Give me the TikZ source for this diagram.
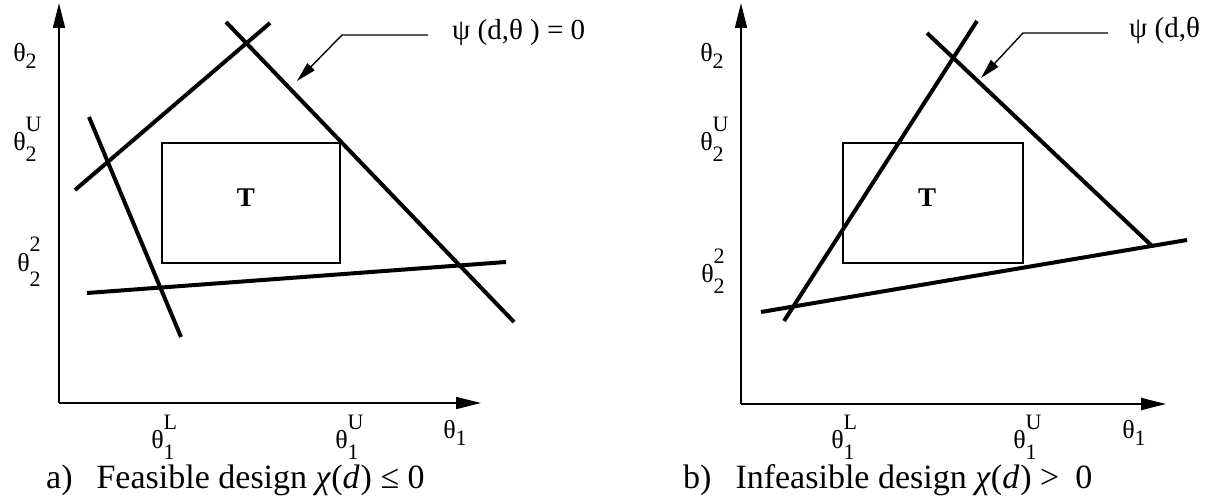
\documentclass[tikz,border=0pt]{standalone}
\usepackage{fontspec}
\setmainfont{Liberation Serif}
\usetikzlibrary{arrows.meta}
\newcommand\thsub[1]{θ\raisebox{-0.3em}{\fontsize{22}{22}\selectfont #1}}
\newcommand\thss[3][0.4em]{θ\rlap{\raisebox{0.75em}{\fontsize{22}{22}\selectfont #2}}\raisebox{-#1}{\fontsize{22}{22}\selectfont #3}}
\begin{document}
\begin{tikzpicture}[x=1pt,y=-1pt,
  axis/.style={line width=1.8pt,-{Triangle[length=25pt,width=12pt]}},
  bound/.style={line width=4pt},
  region/.style={draw,line width=1.8pt},
  leader/.style={line width=1.4pt,-{Triangle[length=20pt,width=10pt]}},
  lab/.style={inner sep=0pt,font=\fontsize{26}{26}\selectfont},
  captext/.style={inner sep=0pt,anchor=west,font=\fontsize{34}{34}\selectfont}]
\useasboundingbox (0,0) rectangle (1209,503);

% ---------- panel a ----------
\coordinate (aO) at (59,403);
\coordinate (aY) at (59,3);
\coordinate (aX) at (481,403);
\draw[axis] (aO) -- (aY);
\draw[axis] (aO) -- (aX);

\node[region,minimum width=178pt,minimum height=120pt,inner sep=0pt] (aT) at (251,203) {};
\node[lab,font=\fontsize{27}{27}\selectfont\bfseries] (aTl) at (246,198) {T};

\coordinate (a1s) at (75,190); \coordinate (a1e) at (270,23);
\coordinate (a2s) at (226,22); \coordinate (a2e) at (514,322);
\coordinate (a3s) at (89,117); \coordinate (a3e) at (181,337);
\coordinate (a4s) at (87,293); \coordinate (a4e) at (506,262);
\draw[bound] (a1s) -- (a1e);
\draw[bound] (a2s) -- (a2e);
\draw[bound] (a3s) -- (a3e);
\draw[bound] (a4s) -- (a4e);

\coordinate (aL0) at (428,35); \coordinate (aL1) at (342,35); \coordinate (aL2) at (297,81);
\draw[leader] (aL0) -- (aL1) -- (aL2);
\node[lab,anchor=west,font=\fontsize{29}{29}\selectfont] (apsi) at (452,32) {ψ (d,θ ) = 0};

\node[lab] (ath2) at (25,56) {\thsub{2}};
\node[lab] (ath2U) at (25,139) {\thss{U}{2}};
\node[lab] (ath22) at (29,262) {\thss[0.6em]{2}{2}};
\node[lab] (ath1L) at (163,437) {\thss{L}{1}};
\node[lab] (ath1U) at (347,437) {\thss{U}{1}};
\node[lab] (ath1) at (455,433) {\thsub{1}};

\node[captext] (acap) at (46,480) {a)\hspace{24pt}Feasible design \textit{χ}(\textit{d}\kern1pt) ≤ 0};

% ---------- panel b ----------
\coordinate (bO) at (741,404);
\coordinate (bY) at (741,3);
\coordinate (bX) at (1166,404);
\draw[axis] (bO) -- (bY);
\draw[axis] (bO) -- (bX);

\node[region,minimum width=180pt,minimum height=120pt,inner sep=0pt] (bT) at (933,203) {};
\node[lab,font=\fontsize{27}{27}\selectfont\bfseries] (bTl) at (927,198) {T};

\coordinate (b1s) at (784,321); \coordinate (b1e) at (977,21);
\coordinate (b2s) at (927,33);  \coordinate (b2e) at (1152,246);
\coordinate (b3s) at (761,312); \coordinate (b3e) at (1187,240);
\draw[bound] (b1s) -- (b1e);
\draw[bound] (b2s) -- (b2e);
\draw[bound] (b3s) -- (b3e);

\coordinate (bL0) at (1108,33); \coordinate (bL1) at (1023,33); \coordinate (bL2) at (981,78);
\draw[leader] (bL0) -- (bL1) -- (bL2);
\node[lab,anchor=west,font=\fontsize{29}{29}\selectfont] (bpsi) at (1129,30) {ψ (d,θ};

\node[lab] (bth2) at (712,56) {\thsub{2}};
\node[lab] (bth2U) at (712,139) {\thss{U}{2}};
\node[lab] (bth22) at (713,271) {\thss{2}{2}};
\node[lab] (bth1L) at (843,437) {\thss{L}{1}};
\node[lab] (bth1U) at (1025,437) {\thss{U}{1}};
\node[lab] (bth1) at (1134,433) {\thsub{1}};

\node[captext] (bcap) at (683,480) {b)\hspace{24pt}Infeasible design \textit{χ}(\textit{d}\kern1pt) >\hspace{16pt}0};
\end{tikzpicture}
\end{document}
